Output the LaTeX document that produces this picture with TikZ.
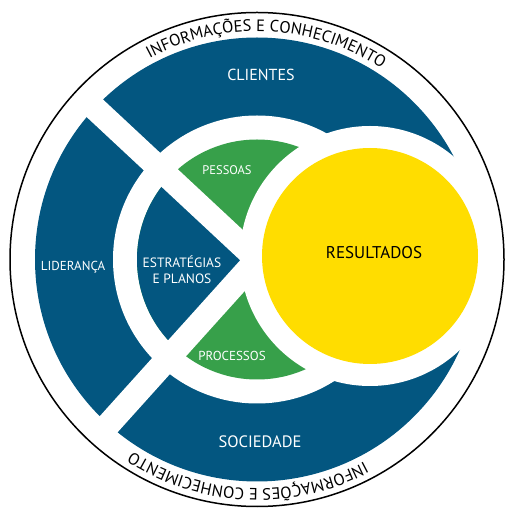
\documentclass[tikz,border=0pt]{standalone}
\usepackage{fontspec}
\setmainfont{PT Sans}
\usetikzlibrary{decorations.text}

\definecolor{modelblue}{RGB}{3,86,128}
\definecolor{modelgreen}{RGB}{55,160,74}
\definecolor{modelyellow}{RGB}{255,221,0}

\newcommand{\ringfont}{\fontsize{16.5}{18}\selectfont}

\begin{document}
\begin{tikzpicture}[
    x=1pt, y=1pt,
    gapband/.style={draw=white, line width=24pt},
    areatext/.style={text=white, align=center, inner sep=0pt},
    bigtext/.style={areatext, font=\fontsize{16.5}{18}\selectfont},
    smalltext/.style={areatext, font=\fontsize{13}{16}\selectfont}
]
    \useasboundingbox (0,0) rectangle (505,509);
    \coordinate (C) at (257,249.5);
    \coordinate (Y) at (370,253);

    % Outer Ring
    \fill[modelblue] (C) circle[radius=222];
    \fill[white] (C) circle[radius=144];

    % Inner Disc
    \fill[modelgreen] (C) circle[radius=120];
    \fill[modelblue] (C) -- ([shift={(137:120)}]C) arc[start angle=137, end angle=228, radius=120] -- cycle;

    % Separators
    \draw[gapband] (C) -- ([shift={(137:232)}]C);
    \draw[gapband] (C) -- ([shift={(228:232)}]C);

    % Results
    \fill[white] (Y) circle[radius=130];
    \fill[modelyellow] (Y) circle[radius=108];

    % Border and ring text
    \draw[line width=1.5pt] (C) circle[radius=247];
    \path[decorate, decoration={text along path, text align=center,
        text={|\ringfont|INFORMAÇÕES E CONHECIMENTO}}]
        ([shift={(122:228)}]C) arc[start angle=122, end angle=53, radius=228];
    \path[decorate, decoration={text along path, text align=center,
        text={|\ringfont|INFORMAÇÕES E CONHECIMENTO}}]
        ([shift={(302:229)}]C) arc[start angle=302, end angle=233, radius=229];

    % Labels
    \node[bigtext, font=\fontsize{16}{18}\selectfont] (CLIENTES) at (261,434) {CLIENTES};
    \node[bigtext] (SOCIEDADE) at (260,67) {SOCIEDADE};
    \node[smalltext] (LIDERANCA) at (73,242) {LIDERANÇA};
    \node[smalltext, font=\fontsize{13.5}{16}\selectfont] (ESTRATEGIAS) at (182,239) {ESTRATÉGIAS\\E PLANOS};
    \node[smalltext, font=\fontsize{12.5}{15}\selectfont] (PESSOAS) at (227,339) {PESSOAS};
    \node[smalltext] (PROCESSOS) at (232,153) {PROCESSOS};
    \node[bigtext, font=\fontsize{17}{19}\selectfont, text=black] (RESULTADOS) at (374,256) {RESULTADOS};

\end{tikzpicture}
\end{document}
